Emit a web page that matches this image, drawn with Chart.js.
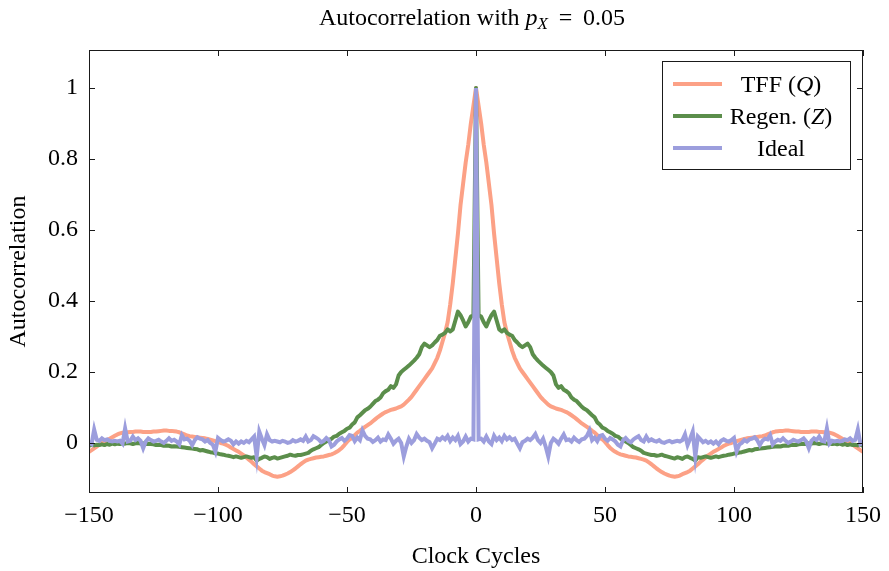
<!DOCTYPE html>
<html>
<head>
<meta charset="utf-8">
<script src="https://cdn.jsdelivr.net/npm/chart.js@4.4.1/dist/chart.umd.min.js"></script>
<style>
  html, body { margin: 0; padding: 0; background: #fff; }
  canvas { display: block; }
</style>
</head>
<body>
<canvas id="autocorrelation_chart" width="889" height="571"></canvas>
<script>
// autocorrelation is symmetric, so each list holds lags 0..150
const tff_values = [
  1.0, 0.95, 0.9, 0.84, 0.79, 0.73, 0.67, 0.59, 0.52, 0.45,
  0.39, 0.34, 0.31, 0.285, 0.26, 0.24, 0.225, 0.21, 0.2, 0.19,
  0.18, 0.17, 0.16, 0.15, 0.14, 0.13, 0.122, 0.115, 0.108, 0.103,
  0.1, 0.097, 0.095, 0.093, 0.09, 0.087, 0.083, 0.078, 0.073, 0.067,
  0.061, 0.055, 0.05, 0.045, 0.04, 0.034, 0.029, 0.022, 0.014, 0.01,
  0.003, -0.006, -0.014, -0.02, -0.025, -0.029, -0.032, -0.034, -0.036, -0.038,
  -0.039, -0.04, -0.041, -0.043, -0.045, -0.047, -0.05, -0.055, -0.06, -0.066,
  -0.072, -0.077, -0.082, -0.086, -0.089, -0.092, -0.094, -0.095, -0.094, -0.092,
  -0.088, -0.085, -0.082, -0.078, -0.072, -0.066, -0.06, -0.053, -0.047, -0.041,
  -0.035, -0.03, -0.025, -0.021, -0.017, -0.013, -0.008, -0.005, -0.002, 0.0,
  0.003, 0.005, 0.007, 0.009, 0.011, 0.013, 0.014, 0.015, 0.016, 0.017,
  0.018, 0.019, 0.021, 0.024, 0.027, 0.03, 0.032, 0.033, 0.034, 0.034,
  0.035, 0.035, 0.034, 0.033, 0.032, 0.032, 0.031, 0.031, 0.031, 0.031,
  0.032, 0.032, 0.032, 0.031, 0.031, 0.03, 0.03, 0.029, 0.027, 0.024,
  0.02, 0.016, 0.012, 0.008, 0.004, 0.0, -0.005, -0.01, -0.015, -0.02,
  -0.025
];
const regen_values = [
  1.0, 0.36, 0.356, 0.34, 0.328, 0.345, 0.36, 0.37, 0.345, 0.32,
  0.314, 0.32, 0.31, 0.305, 0.302, 0.29, 0.283, 0.275, 0.27, 0.275,
  0.28, 0.27, 0.25, 0.24, 0.232, 0.225, 0.218, 0.212, 0.206, 0.2,
  0.19, 0.165, 0.155, 0.16, 0.15, 0.146, 0.14, 0.128, 0.122, 0.118,
  0.11, 0.102, 0.096, 0.092, 0.085, 0.078, 0.072, 0.058, 0.052, 0.043,
  0.04, 0.034, 0.03, 0.026, 0.02, 0.018, 0.012, 0.008, 0.004, 0.0,
  -0.006, -0.012, -0.015, -0.018, -0.022, -0.028, -0.03, -0.032, -0.034, -0.034,
  -0.036, -0.035, -0.033, -0.036, -0.038, -0.04, -0.042, -0.044, -0.04, -0.042,
  -0.045, -0.04, -0.038, -0.042, -0.045, -0.05, -0.04, -0.042, -0.04, -0.038,
  -0.04, -0.042, -0.04, -0.038, -0.04, -0.038, -0.036, -0.035, -0.033, -0.032,
  -0.03, -0.029, -0.027, -0.026, -0.024, -0.022, -0.02, -0.021, -0.018, -0.017,
  -0.016, -0.015, -0.014, -0.013, -0.012, -0.011, -0.01, -0.009, -0.01, -0.008,
  -0.007, -0.008, -0.006, -0.005, -0.006, -0.004, -0.003, -0.002, -0.003, -0.001,
  -0.002, 0.0, -0.001, -0.003, -0.001, 0.0, -0.002, -0.001, -0.003, -0.002,
  -0.004, -0.002, -0.005, -0.003, -0.006, -0.004, -0.006, -0.005, -0.007, -0.005,
  -0.008
];
const ideal_values = [
  1.0, 0.01, 0.012, 0.004, 0.018, 0.004, -0.003, 0.02, 0.008, 0.015,
  0.005, 0.02, 0.01, 0.016, 0.008, 0.012, -0.002, -0.015, 0.002, 0.006,
  0.012, 0.008, 0.015, 0.025, 0.008, 0.0, 0.012, -0.01, -0.038, 0.0,
  0.012, 0.006, -0.002, 0.012, 0.024, 0.008, 0.01, 0.004, 0.015, 0.008,
  0.003, 0.01, 0.012, 0.02, 0.035, 0.008, 0.015, 0.005, 0.02, 0.022,
  0.012, 0.006, 0.014, 0.01, 0.004, -0.005, -0.01, 0.008, 0.014, 0.006,
  0.002, 0.01, 0.015, 0.019, 0.008, 0.004, 0.018, 0.006, 0.01, 0.006,
  0.004, 0.008, 0.002, 0.0, 0.004, 0.006, 0.002, 0.004, 0.006, 0.004,
  0.008, 0.024, -0.006, 0.012, 0.032, -0.039, 0.018, 0.01, 0.002, 0.006,
  0.0, 0.004, -0.002, 0.004, -0.004, 0.006, 0.01, 0.006, 0.004, 0.008,
  0.014, -0.024, -0.005, 0.0, 0.008, 0.004, 0.01, 0.012, 0.016, 0.008,
  -0.006, 0.006, 0.012, 0.01, 0.022, -0.004, 0.004, 0.009, 0.006, 0.013,
  0.006, 0.0, 0.004, 0.009, 0.006, 0.004, 0.008, 0.013, 0.004, -0.015,
  0.006, 0.013, 0.008, 0.018, 0.006, 0.004, 0.041, -0.002, 0.006, 0.004,
  0.006, 0.004, 0.006, 0.01, 0.008, 0.013, 0.006, 0.009, 0.038, -0.003,
  0.002
];
const series_names = ["TFF", "Regen.", "Ideal"];
const x_ticks = [-150, -100, -50, 0, 50, 100, 150];
const y_ticks = [0, 0.2, 0.4, 0.6, 0.8, 1];

const serif = "'Liberation Serif', 'DejaVu Serif', serif";
const colors = ["rgb(252, 161, 134)", "rgb(91, 142, 75)", "rgb(156, 158, 221)"];

function to_points(values) {
  const points = [];
  for (let lag = -150; lag <= 150; lag++) {
    points.push({ x: lag, y: values[Math.abs(lag)] });
  }
  return points;
}

// draws a line of text made of pieces, some italic or subscript, centred on cx
function draw_runs(ctx, runs, cx, y) {
  let total = 0;
  for (const r of runs) {
    ctx.font = (r.italic ? "italic " : "") + r.size + "px " + serif;
    r.w = ctx.measureText(r.text).width;
    total += r.w;
  }
  let x = cx - total / 2;
  ctx.textAlign = "left";
  ctx.textBaseline = "alphabetic";
  for (const r of runs) {
    ctx.font = (r.italic ? "italic " : "") + r.size + "px " + serif;
    ctx.fillText(r.text, x, y + (r.dy || 0));
    x += r.w;
  }
}

const decor_plugin = {
  id: "decor",
  afterDraw(chart) {
    const ctx = chart.ctx;
    const a = chart.chartArea;
    const xs = chart.scales.x;
    const ys = chart.scales.y;
    ctx.save();
    ctx.strokeStyle = "#1a1a1a";
    ctx.lineWidth = 1;
    ctx.strokeRect(Math.round(a.left) + 0.5, Math.round(a.top) + 0.5,
      Math.round(a.right - a.left) - 1, Math.round(a.bottom - a.top) - 1);

    // inward tick marks on all four sides
    const len = 6;
    ctx.beginPath();
    for (const v of x_ticks) {
      const px = Math.round(xs.getPixelForValue(v)) + 0.5;
      ctx.moveTo(px, a.bottom); ctx.lineTo(px, a.bottom - len);
      ctx.moveTo(px, a.top); ctx.lineTo(px, a.top + len);
    }
    for (const v of y_ticks) {
      const py = Math.round(ys.getPixelForValue(v)) + 0.5;
      ctx.moveTo(a.left, py); ctx.lineTo(a.left + len, py);
      ctx.moveTo(a.right, py); ctx.lineTo(a.right - len, py);
    }
    ctx.stroke();

    ctx.fillStyle = "#000";
    // plot title
    draw_runs(ctx, [
      { text: "Autocorrelation with ", size: 24 },
      { text: "p", size: 24, italic: true },
      { text: "X", size: 17, italic: true, dy: 4 },
      { text: " \u2009= \u20090.05", size: 24 }
    ], 472, 25);

    // axis titles
    draw_runs(ctx, [{ text: "Clock Cycles", size: 24 }], (a.left + a.right) / 2, 563);
    ctx.save();
    ctx.translate(25, (a.top + a.bottom) / 2);
    ctx.rotate(-Math.PI / 2);
    draw_runs(ctx, [{ text: "Autocorrelation", size: 24 }], 0, 0);
    ctx.restore();

    // legend box
    const bx = 662.5, by = 61.5, bw = 188, bh = 108;
    ctx.fillStyle = "#fff";
    ctx.fillRect(bx, by, bw, bh);
    ctx.strokeStyle = "#1a1a1a";
    ctx.strokeRect(bx, by, bw, bh);
    const labels = [
      [{ text: series_names[0] + " (", size: 24 }, { text: "Q", size: 24, italic: true }, { text: ")", size: 24 }],
      [{ text: series_names[1] + " (", size: 24 }, { text: "Z", size: 24, italic: true }, { text: ")", size: 24 }],
      [{ text: series_names[2], size: 24 }]
    ];
    for (let i = 0; i < 3; i++) {
      const ry = 84 + i * 32;
      ctx.strokeStyle = colors[i];
      ctx.lineWidth = 4;
      ctx.beginPath();
      ctx.moveTo(673, ry); ctx.lineTo(722, ry);
      ctx.stroke();
      ctx.fillStyle = "#000";
      draw_runs(ctx, labels[i], 781, ry + 8);
    }
    ctx.restore();
  }
};

new Chart("autocorrelation_chart", {
  type: "line",
  data: {
    datasets: [
      { label: series_names[0], data: to_points(tff_values), borderColor: colors[0], borderWidth: 4, borderJoinStyle: "round", order: 3 },
      { label: series_names[1], data: to_points(regen_values), borderColor: colors[1], borderWidth: 4, borderJoinStyle: "round", order: 2 },
      { label: series_names[2], data: to_points(ideal_values), borderColor: colors[2], borderWidth: 4, order: 1 }
    ]
  },
  options: {
    animation: false,
    responsive: false,
    layout: { padding: { left: 0, right: 24, top: 50, bottom: 0 } },
    elements: { point: { radius: 0 }, line: { tension: 0 } },
    plugins: {
      legend: { display: false },
      tooltip: { enabled: false }
    },
    scales: {
      x: {
        type: "linear",
        min: -150,
        max: 150,
        grid: { display: false, drawTicks: false },
        border: { display: false },
        afterBuildTicks: s => { s.ticks = x_ticks.map(v => ({ value: v })); },
        afterFit: s => { s.height = 78; },
        ticks: {
          font: { family: serif, size: 24 },
          color: "#000",
          padding: 8,
          maxRotation: 0,
          autoSkip: false,
          callback: v => String(v).replace("-", "\u2212")
        }
      },
      y: {
        type: "linear",
        min: -0.141,
        max: 1.107,
        grid: { display: false, drawTicks: false },
        border: { display: false },
        afterBuildTicks: s => { s.ticks = y_ticks.map(v => ({ value: v })); },
        afterFit: s => { s.width = 89; },
        ticks: {
          font: { family: serif, size: 24 },
          color: "#000",
          padding: 11,
          autoSkip: false,
          callback: v => String(v)
        }
      }
    }
  },
  plugins: [decor_plugin]
});
</script>
</body>
</html>
